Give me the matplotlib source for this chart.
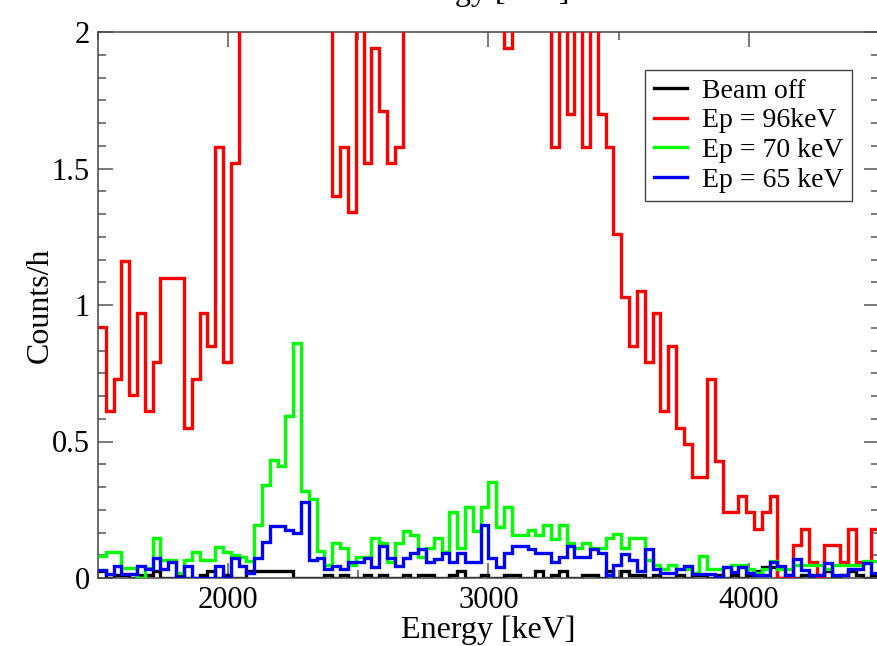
import numpy as np
import matplotlib
matplotlib.use("Agg")
from matplotlib import pyplot
from matplotlib.lines import Line2D
from matplotlib.ticker import MultipleLocator

# 30 keV bins from 1500 to 4500 keV
bin_start = 1500
bin_width = 30
n_bins = 100

beam_off = [0.025, 0.0, 0.012, 0.012, 0.0, 0.012, 0.012, 0.025, 0.0, 0.0,
            0.012, 0.0, 0.0, 0.012, 0.025, 0.0, 0.012, 0.0, 0.0, 0.025,
            0.025, 0.025, 0.025, 0.025, 0.025, 0.0, 0.0, 0.0, 0.0, 0.012,
            0.0, 0.012, 0.0, 0.0, 0.012, 0.0, 0.012, 0.0, 0.0, 0.012,
            0.0, 0.012, 0.012, 0.0, 0.0, 0.012, 0.025, 0.0, 0.0, 0.012,
            0.0, 0.0, 0.012, 0.012, 0.0, 0.0, 0.025, 0.0, 0.012, 0.025,
            0.0, 0.0, 0.012, 0.012, 0.0, 0.025, 0.0, 0.025, 0.012, 0.012,
            0.0, 0.012, 0.0, 0.0, 0.012, 0.0, 0.012, 0.012, 0.0, 0.012,
            0.0, 0.012, 0.0, 0.012, 0.025, 0.04, 0.04, 0.0, 0.012, 0.0,
            0.012, 0.0, 0.012, 0.025, 0.0, 0.012, 0.025, 0.012, 0.0, 0.012]

ep96 = [0.92, 0.61, 0.73, 1.16, 0.67, 0.97, 0.61, 0.79, 1.10, 1.10,
        1.10, 0.55, 0.73, 0.97, 0.85, 1.58, 0.79, 1.52, 2.6, 3.1,
        3.4, 3.0, 3.3, 2.9, 2.7, 3.2, 3.0, 2.8, 2.5, 2.4,
        1.40, 1.58, 1.34, 2.2, 1.52, 1.94, 1.71, 1.52, 1.58, 2.3,
        2.6, 2.8, 3.0, 3.2, 3.3, 3.4, 3.3, 3.2, 3.0, 2.9,
        2.7, 2.5, 1.94, 2.4, 2.6, 2.5, 2.3, 2.2, 1.58, 2.1,
        1.70, 2.1, 1.58, 2.1, 1.70, 1.58, 1.26, 1.03, 0.85, 1.05,
        0.79, 0.97, 0.61, 0.85, 0.55, 0.49, 0.37, 0.37, 0.73, 0.43,
        0.24, 0.24, 0.30, 0.24, 0.18, 0.24, 0.30, 0.0, 0.0, 0.12,
        0.18, 0.06, 0.0, 0.12, 0.12, 0.06, 0.18, 0.06, 0.06, 0.18]

ep70 = [0.08, 0.096, 0.096, 0.035, 0.035, 0.0, 0.035, 0.145, 0.066, 0.066,
        0.02, 0.066, 0.096, 0.066, 0.066, 0.112, 0.096, 0.084, 0.078, 0.064,
        0.194, 0.34, 0.434, 0.41, 0.592, 0.862, 0.32, 0.288, 0.10, 0.048,
        0.129, 0.111, 0.048, 0.078, 0.078, 0.145, 0.129, 0.06, 0.129, 0.173,
        0.157, 0.078, 0.111, 0.145, 0.097, 0.243, 0.109, 0.259, 0.173, 0.259,
        0.353, 0.188, 0.259, 0.158, 0.158, 0.176, 0.158, 0.194, 0.142, 0.194,
        0.129, 0.109, 0.129, 0.109, 0.109, 0.145, 0.16, 0.109, 0.145, 0.145,
        0.066, 0.048, 0.032, 0.048, 0.032, 0.032, 0.018, 0.08, 0.032, 0.032,
        0.04, 0.048, 0.048, 0.032, 0.018, 0.032, 0.064, 0.032, 0.032, 0.048,
        0.048, 0.048, 0.048, 0.032, 0.048, 0.048, 0.048, 0.048, 0.064, 0.064]

ep65 = [0.029, 0.015, 0.044, 0.015, 0.015, 0.044, 0.033, 0.072, 0.033, 0.06,
        0.0, 0.044, 0.0, 0.0, 0.0, 0.044, 0.0, 0.074, 0.044, 0.02,
        0.074, 0.131, 0.192, 0.192, 0.177, 0.164, 0.28, 0.065, 0.072, 0.032,
        0.044, 0.032, 0.06, 0.06, 0.072, 0.042, 0.117, 0.072, 0.044, 0.072,
        0.09, 0.105, 0.06, 0.07, 0.09, 0.06, 0.09, 0.06, 0.06, 0.194,
        0.072, 0.041, 0.09, 0.117, 0.117, 0.105, 0.09, 0.09, 0.06, 0.076,
        0.117, 0.076, 0.076, 0.105, 0.09, 0.011, 0.048, 0.088, 0.066, 0.027,
        0.105, 0.032, 0.018, 0.018, 0.032, 0.044, 0.015, 0.015, 0.015, 0.005,
        0.042, 0.023, 0.042, 0.018, 0.011, 0.011, 0.057, 0.044, 0.011, 0.071,
        0.03, 0.011, 0.011, 0.055, 0.011, 0.011, 0.032, 0.032, 0.055, 0.018]

labels = ["Beam off", "Ep = 96keV", "Ep = 70 keV", "Ep = 65 keV"]
colors = ["black", "#ff0000", "#00ff00", "#0000ff"]

pyplot.rcParams['font.family'] = ['Liberation Serif', 'DejaVu Serif']

edges = bin_start + bin_width * np.arange(n_bins + 1)

fig = pyplot.figure(figsize=(8.77, 6.46), dpi=100)
ax = fig.add_axes([98 / 877, 68 / 646, 781 / 877, 546 / 646])

lw = 2.4
for vals, col, z in zip([beam_off, ep96, ep70, ep65], colors, [2, 3, 4, 5]):
    ax.stairs(vals, edges, baseline=None, color=col, lw=lw, zorder=z)

ax.set_xlim(1500, 4500)
ax.set_ylim(0, 2)
ax.xaxis.set_major_locator(MultipleLocator(1000))
ax.xaxis.set_minor_locator(MultipleLocator(500))
ax.yaxis.set_major_locator(MultipleLocator(0.5))
ax.yaxis.set_minor_locator(MultipleLocator(0.5 / 6))
ax.set_yticks([0, 0.5, 1, 1.5, 2])
ax.set_yticklabels(["0", "0.5", "1", "1.5", "2"])

ax.tick_params(which='both', direction='in', top=True, right=True,
               color='#555555', labelsize=22, width=1.1)
ax.tick_params(which='major', length=11)
ax.tick_params(which='minor', length=5.5)
ax.tick_params(axis='x', pad=6)
ax.tick_params(axis='y', pad=6)
for sp in ax.spines.values():
    sp.set_color('#444444')
    sp.set_linewidth(1.1)

ax.set_xlabel("Energy [keV]", fontsize=23, labelpad=0)
ax.set_ylabel("Counts/h", fontsize=23, labelpad=-2)

# top label of the original frame, only its descenders inside the image
fig.text(482 / 877, 1.0, "Energy [keV]", fontsize=23,
         ha='center', va='baseline')

handles = [Line2D([], [], color=c, lw=lw) for c in colors]
leg = ax.legend(handles, labels, loc='upper right',
                bbox_to_anchor=((852 - 98) / 781, 1 - (70 - 32) / 546),
                borderaxespad=0, fontsize=20, fancybox=False,
                handlelength=1.2, handletextpad=0.55, labelspacing=0.15,
                borderpad=0.3, framealpha=1)
leg.get_frame().set_edgecolor('#444444')
leg.get_frame().set_linewidth(1.0)

fig.savefig("out.png", dpi=100)
